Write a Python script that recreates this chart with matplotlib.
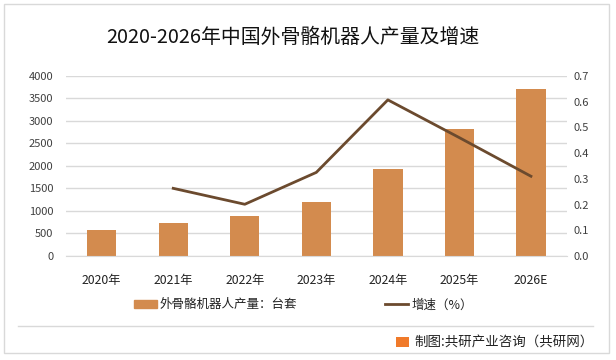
import matplotlib.pyplot as plt
from matplotlib.patches import Rectangle
from matplotlib.lines import Line2D
import numpy as np

plt.rcParams['font.family'] = ['Noto Sans CJK SC', 'DejaVu Sans']

# data
years = ["2020年", "2021年", "2022年", "2023年", "2024年", "2025年", "2026E"]
output = [580, 740, 890, 1200, 1930, 2830, 3720]
growth_years = ["2021年", "2022年", "2023年", "2024年", "2025年", "2026E"]
growth = [0.263, 0.201, 0.325, 0.607, 0.46, 0.31]

bar_color = "#D38B4E"
line_color = "#6B4A2E"
grid_color = "#D9D9D9"
text_color = "#404040"

fig = plt.figure(figsize=(6.16, 3.6), dpi=100)
ax = fig.add_axes([0.107, 0.289, 0.813, 0.5])

x = np.arange(len(years))
ax.bar(x, output, width=0.41, color=bar_color, zorder=2)
ax.set_ylim(0, 4000)
ax.set_yticks(np.arange(0, 4001, 500))
ax.set_xlim(-0.5, len(years) - 0.5)
ax.set_xticks(x)
ax.set_xticklabels(years)
ax.yaxis.grid(True, color=grid_color, linewidth=1)
ax.set_axisbelow(True)
for s in ax.spines.values():
    s.set_visible(False)
ax.spines["bottom"].set_visible(True)
ax.spines["bottom"].set_color(grid_color)
ax.tick_params(axis="both", length=0, colors=text_color)
ax.tick_params(axis="y", pad=9, labelsize=8)
ax.tick_params(axis="x", pad=13, labelsize=8.8, colors="#222222")

ax2 = ax.twinx()
gx = [years.index(y) for y in growth_years]
ax2.plot(gx, growth, color=line_color, linewidth=2, zorder=3)
ax2.set_ylim(0, 0.7)
ax2.set_yticks(np.arange(0, 0.71, 0.1))
ax2.set_yticklabels([f"{v:.1f}" for v in np.arange(0, 0.71, 0.1)])
for s in ax2.spines.values():
    s.set_visible(False)
ax2.tick_params(axis="y", length=0, labelsize=8, colors=text_color, pad=5)

fig.text(0.476, 0.897, "2020-2026年中国外骨骼机器人产量及增速", ha="center", va="center",
         fontsize=14.3, color="#111111")

# legend
handles = [Rectangle((0, 0), 1, 1, color=bar_color),
           Line2D([0], [0], color=line_color, linewidth=2)]
labels = ["外骨骼机器人产量：台套", "增速（%）"]
fig.legend(handles, labels, loc="center", bbox_to_anchor=(0.492, 0.153), ncol=2,
           frameon=False, fontsize=9, columnspacing=7, handlelength=1.85,
           handletextpad=0.25, handleheight=0.6, labelcolor="#222222")

# frame, separator and source line
fig.patches.append(Rectangle((0.007, 0.02), 0.982, 0.968, transform=fig.transFigure,
                             fill=False, edgecolor=grid_color, linewidth=1))
fig.lines.append(Line2D([0.03, 0.963], [0.094, 0.094], transform=fig.transFigure,
                        color=grid_color, linewidth=1))
fig.patches.append(Rectangle((0.643, 0.036), 0.021, 0.028, transform=fig.transFigure,
                             facecolor="#F07A2A", edgecolor="none"))
fig.text(0.963, 0.048, "制图:共研产业咨询（共研网）", ha="right", va="center",
         fontsize=9.7, color="#222222")

fig.savefig("out.png", dpi=100)
